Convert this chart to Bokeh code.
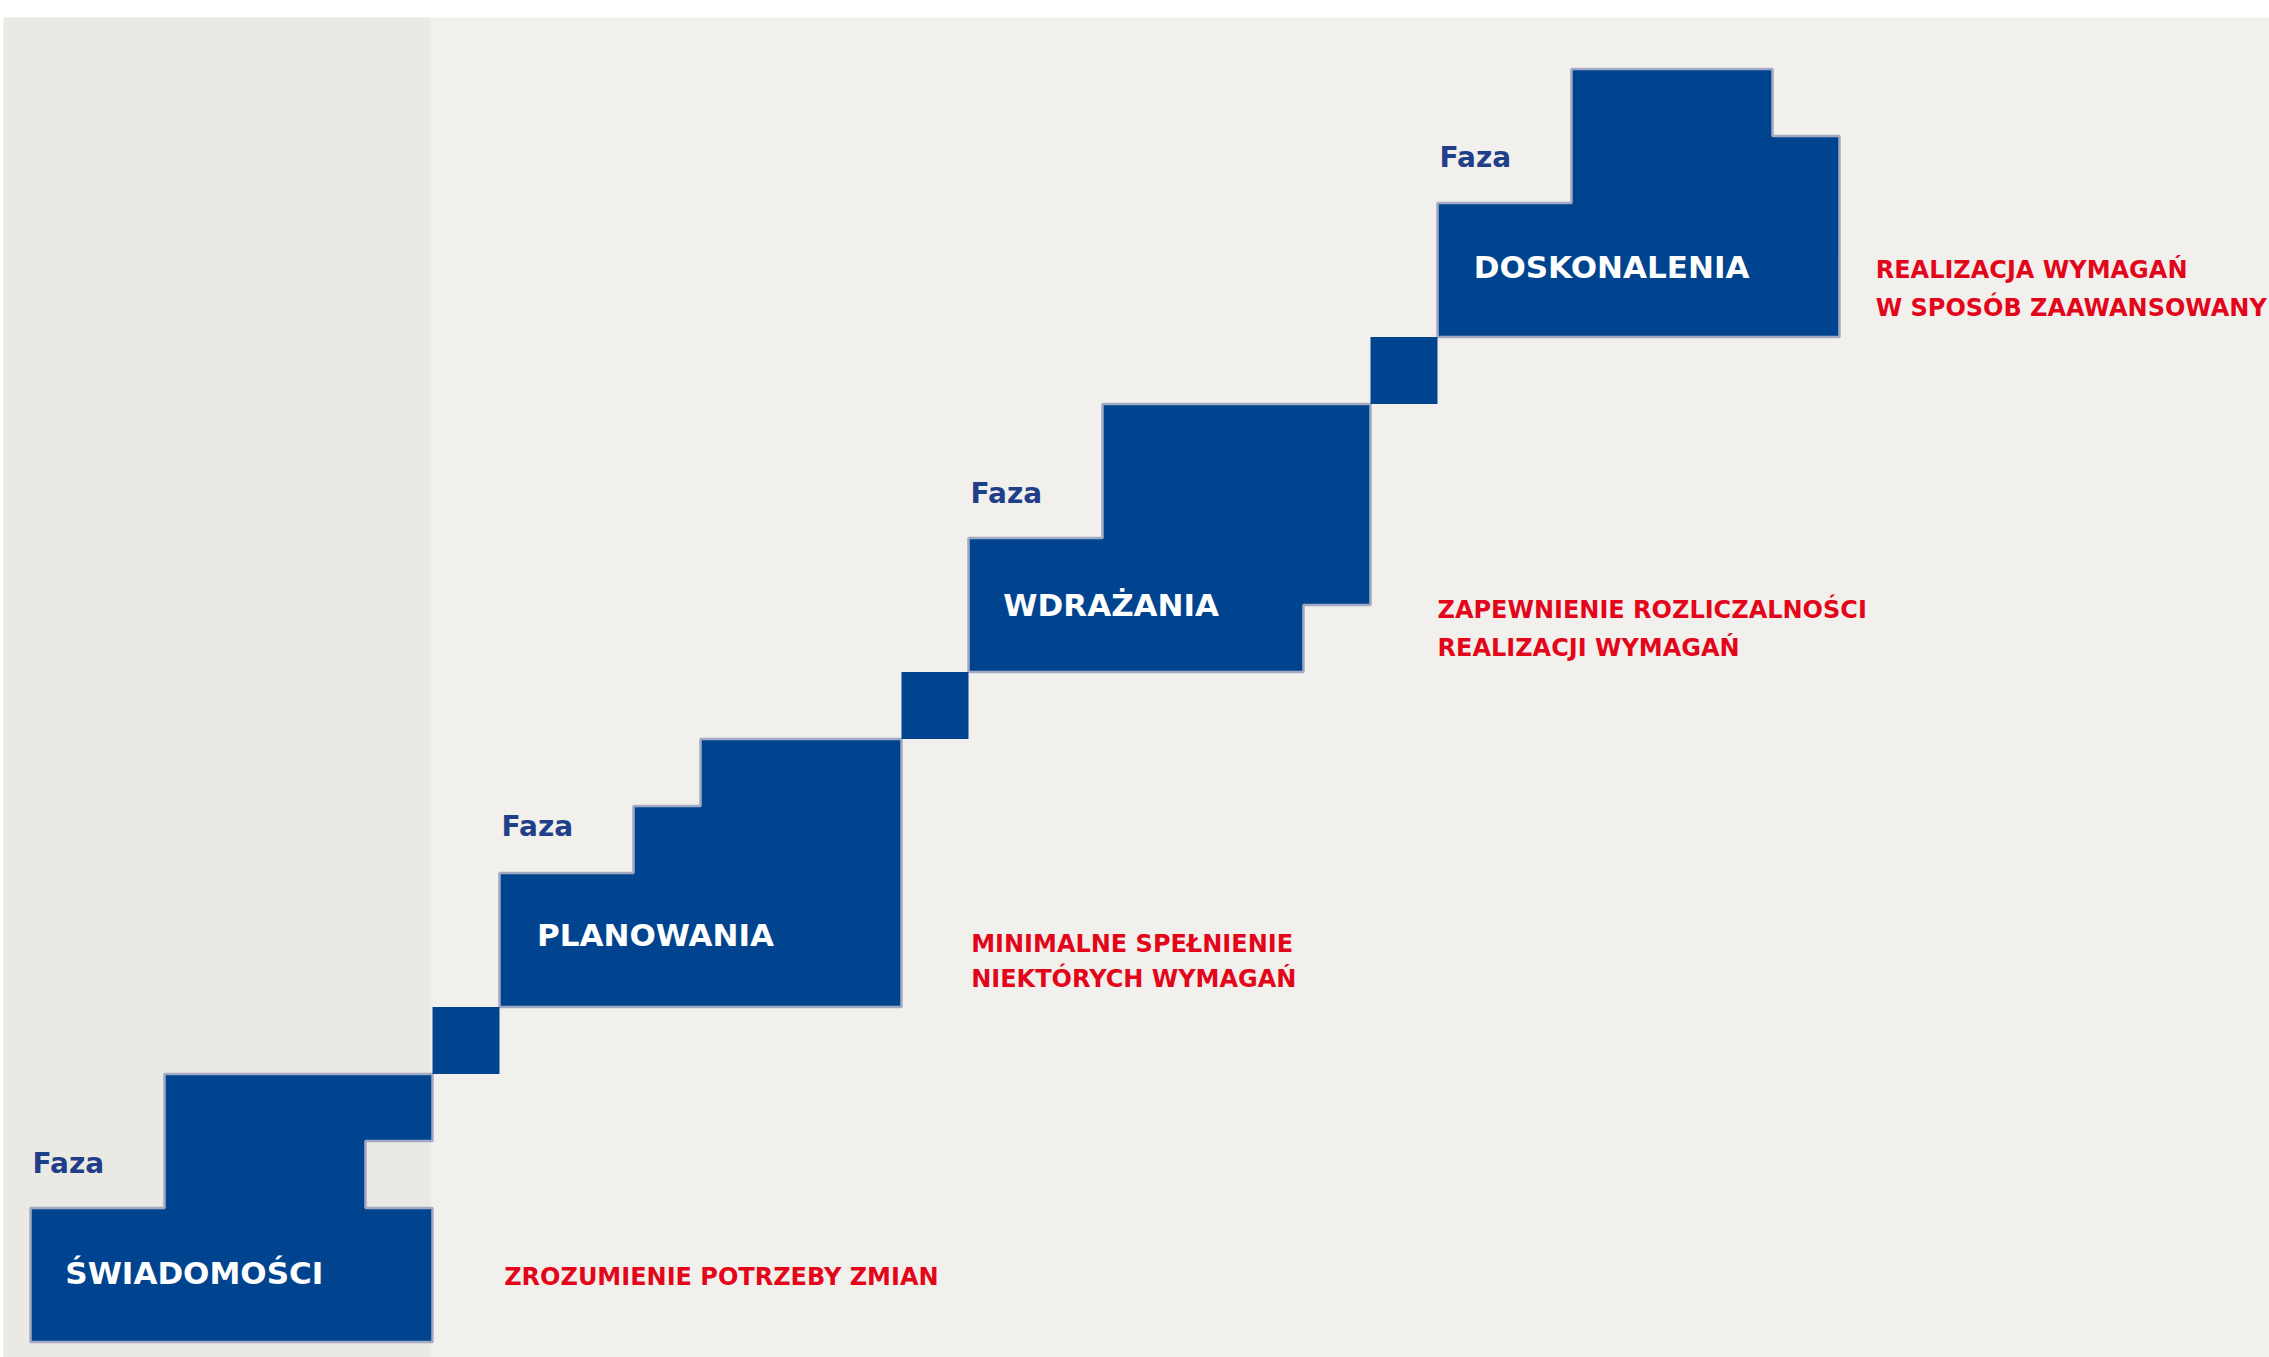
from bokeh.plotting import figure
from bokeh.models import Range1d
from bokeh.core.properties import value
from bokeh.embed import file_html
from bokeh.resources import INLINE

# ---- data (grid units: 1 unit = one small square) ----
phase_names = ["ŚWIADOMOŚCI", "PLANOWANIA", "WDRAŻANIA", "DOSKONALENIA"]
faza_label = "Faza"

# outline of each phase block (stepped polygon)
phase_xs = [
    [0, 6, 6, 5, 5, 6, 6, 2, 2, 0],
    [7, 13, 13, 10, 10, 9, 9, 7],
    [14, 19, 19, 20, 20, 16, 16, 14],
    [21, 27, 27, 26, 26, 23, 23, 21],
]
phase_ys = [
    [0, 0, 2, 2, 3, 3, 4, 4, 2, 2],
    [5, 5, 9, 9, 8, 8, 7, 7],
    [10, 10, 11, 11, 14, 14, 12, 12],
    [15, 15, 18, 18, 19, 19, 17, 17],
]

# connecting small squares
sq_left = [6, 13, 20]
sq_bottom = [4, 9, 14]

# label anchors
faza_x = [0.03, 7.03, 14.03, 21.03]
faza_y = [2.66, 7.69, 12.66, 17.68]
name_x = [0.52, 7.56, 14.52, 21.54]
name_y = [1.03, 6.07, 11.0, 16.05]

desc_lines = [
    "ZROZUMIENIE POTRZEBY ZMIAN",
    "MINIMALNE SPEŁNIENIE", "NIEKTÓRYCH WYMAGAŃ",
    "ZAPEWNIENIE ROZLICZALNOŚCI", "REALIZACJI WYMAGAŃ",
    "REALIZACJA WYMAGAŃ", "W SPOSÓB ZAAWANSOWANY",
]
desc_x = [7.07, 14.04, 14.04, 21.0, 21.0, 27.54, 27.54]
desc_y = [0.97, 5.94, 5.42, 10.92, 10.36, 16.0, 15.43]

# ---- layout ----
W, H = 2269, 1357
U = 67.0
x0 = -30.0 / U
x1 = x0 + W / U
y0 = -15.5 / U
y1 = y0 + H / U
bg_top = y1 - 17.0 / U
bg_left = x0 + 3.0 / U
panel_right = 5.97

BLUE = "#00448f"
RED = "#e3061a"
NAVY = "#1f3f88"
FONT = value("DejaVu Sans")

p = figure(width=W, height=H, output_backend="svg", toolbar_location=None,
           x_range=Range1d(x0, x1), y_range=Range1d(y0, y1),
           min_border=0, min_border_left=0, min_border_right=0,
           min_border_top=0, min_border_bottom=0)
p.axis.visible = False
p.grid.visible = False
p.outline_line_color = None
p.background_fill_color = "white"
p.border_fill_color = "white"

# background panels
p.quad(left=[bg_left], right=[x1 + 1], bottom=[y0 - 1], top=[bg_top],
       fill_color="#f2f0ec", line_color=None)
p.quad(left=[bg_left], right=[panel_right], bottom=[y0 - 1], top=[bg_top],
       fill_color="#ebe9e4", line_color=None)

# phase blocks
p.patches(xs=phase_xs, ys=phase_ys, fill_color=BLUE,
          line_color="#a2aac3", line_width=2.5)
p.quad(left=sq_left, right=[v + 1 for v in sq_left],
       bottom=sq_bottom, top=[v + 1 for v in sq_bottom],
       fill_color=BLUE, line_color=None)

# texts
p.text(x=faza_x, y=faza_y, text=[faza_label] * 4, text_font=FONT,
       text_font_style="bold", text_font_size="28px", text_color=NAVY,
       text_baseline="alphabetic", text_align="left")
p.text(x=name_x, y=name_y, text=phase_names, text_font=FONT,
       text_font_style="bold", text_font_size="31px", text_color="white",
       text_baseline="alphabetic", text_align="left")
p.text(x=desc_x, y=desc_y, text=desc_lines, text_font=FONT,
       text_font_style="bold", text_font_size="24px", text_color=RED,
       text_baseline="alphabetic", text_align="left")

open("out.html", "w").write(file_html(p, INLINE))
